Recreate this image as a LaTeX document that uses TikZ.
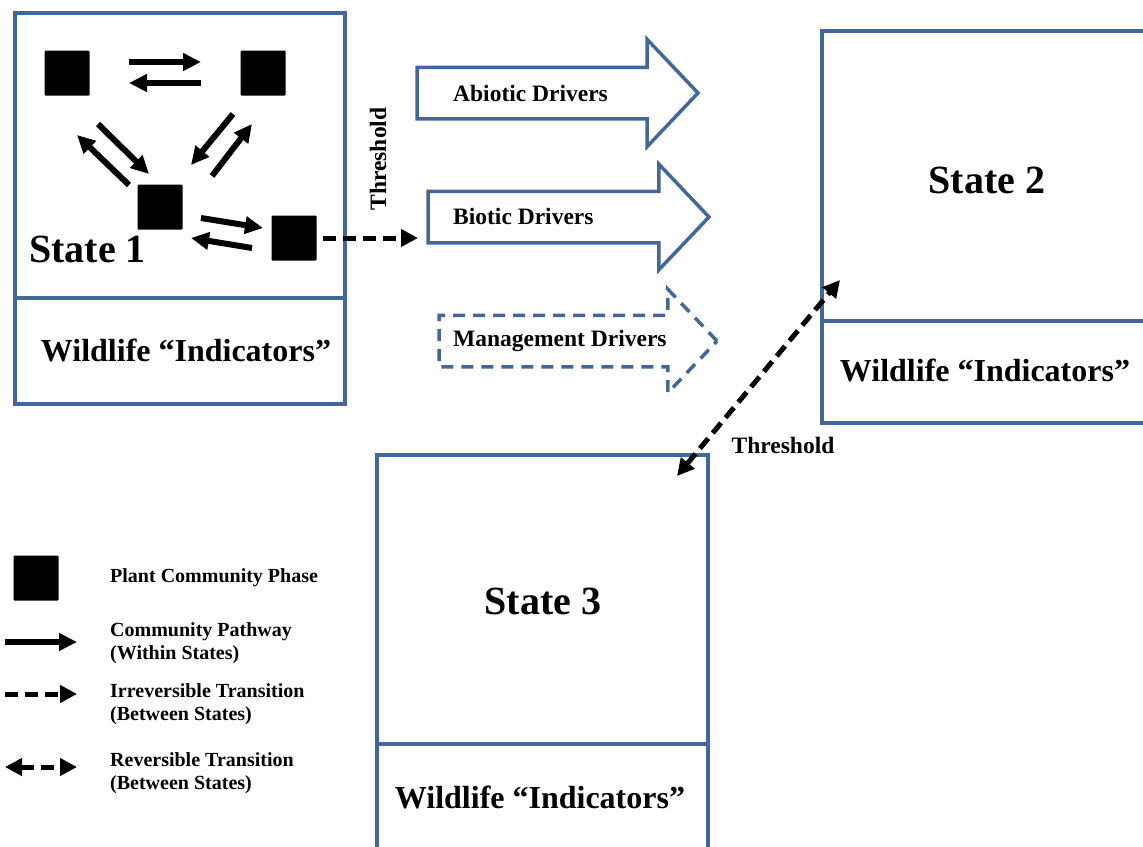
\documentclass[tikz,border=0pt]{standalone}
\usepackage{fontspec}
\setmainfont{Liberation Serif}
\usetikzlibrary{arrows.meta,shapes.arrows,calc}
\definecolor{boxblue}{RGB}{68,103,154}

\begin{document}
\begin{tikzpicture}[x=1pt,y=-1pt,
  box/.style={draw=boxblue,line width=4pt},
  phase/.style={fill=black,minimum size=45pt,inner sep=0pt,rounded corners=1pt},
  pathway/.style={line width=6pt,-{Triangle[length=18pt,width=17pt]}},
  trans/.style={line width=5pt,dash pattern=on 13pt off 7pt,-{Triangle[length=17pt,width=17pt]}},
  revtrans/.style={line width=5pt,dash pattern=on 13pt off 7pt,{Triangle[length=17pt,width=17pt]}-{Triangle[length=17pt,width=17pt]}},
  driver/.style={single arrow,draw=boxblue,line width=3.5pt,inner xsep=0pt,inner ysep=24pt,
    outer sep=0pt,minimum width=0pt,single arrow tip angle=93,anchor=tail},
  drvlabel/.style={font=\fontsize{23.5}{28}\selectfont\bfseries,anchor=west,inner sep=0pt},
  statelabel/.style={font=\fontsize{40}{48}\selectfont\bfseries,inner sep=0pt},
  wildlabel/.style={font=\fontsize{32}{38}\selectfont\bfseries,inner sep=0pt},
  legtext/.style={font=\fontsize{20}{23}\selectfont\bfseries,anchor=west,align=left,inner sep=0pt}]
\clip (0,0) rectangle (1143,846);

\draw[box] (15,13) rectangle (345,404);
\draw[box] (15,298) -- (345,298);
\draw[box] (822,31) rectangle (1160,423);
\draw[box] (822,321) -- (1160,321);
\draw[box] (377,455) rectangle (708,870);
\draw[box] (377,744) -- (708,744);

\node[phase] (pa) at (67,73) {};
\node[phase] (pb) at (263,73) {};
\node[phase] (pc) at (160,207) {};
\node[phase] (pd) at (294,238) {};
\draw[pathway] ($(pa)+(62,-11)$) -- ($(pb)+(-62,-11)$);
\draw[pathway] ($(pb)+(-62,10)$) -- ($(pa)+(62,10)$);
\draw[pathway] ($(pc)+(-31,-22)$) -- ($(pa)+(10,62)$);
\draw[pathway] ($(pa)+(31,51)$) -- ($(pc)+(-11,-33)$);
\draw[pathway] ($(pb)+(-30,41)$) -- ($(pc)+(31,-42)$);
\draw[pathway] ($(pc)+(52,-31)$) -- ($(pb)+(-11,51)$);
\draw[pathway] ($(pc)+(41,11)$) -- ($(pd)+(-31,-10)$);
\draw[pathway] ($(pd)+(-42,10)$) -- ($(pc)+(31,31)$);

\node[statelabel,anchor=base west] (state1) at (29,262) {State 1};
\node[statelabel] (state2) at (987,180) {State 2};
\node[statelabel] (state3) at (543,601) {State 3};
\node[wildlabel] (wild1) at (186,350) {Wildlife “Indicators”};
\node[wildlabel] (wild2) at (985,370) {Wildlife “Indicators”};
\node[wildlabel] (wild3) at (540,797) {Wildlife “Indicators”};

\node[driver,minimum height=281pt,single arrow head extend=28pt] (abiotic) at (417,93) {};
\node[driver,minimum height=281pt,single arrow head extend=27pt] (biotic) at (428,217) {};
\node[driver,minimum height=278pt,single arrow head extend=26pt,dash pattern=on 12pt off 8pt] (mgmt) at (439,341) {};
\node[drvlabel] (abioticlbl) at (453,93) {Abiotic Drivers};
\node[drvlabel] (bioticlbl) at (453,216) {Biotic Drivers};
\node[drvlabel] (mgmtlbl) at (453,341) {Management Drivers};

\node[drvlabel,anchor=center,rotate=90] (thr1) at (378,159) {Threshold};
\coordinate (thrend) at (418,238);
\draw[trans] ($(pd.east)+(6,0)$) -- (thrend);

\coordinate (s3in) at (677,476);
\coordinate (s2in) at (840,280);
\draw[revtrans] (s3in) -- (s2in);
\node[drvlabel,anchor=center] (thr2) at (783,445) {Threshold};

\node[phase] (legphase) at (36,578) {};
\node[legtext] (legphaselbl) at (110,578) {Plant Community Phase};
\coordinate (lega) at (5,642);
\coordinate (legb) at (77,642);
\draw[pathway] (lega) -- (legb);
\node[legtext] (legpathlbl) at (110,643) {Community Pathway\\(Within States)};
\coordinate (legc) at (5,694);
\coordinate (legd) at (77,694);
\draw[trans] (legc) -- (legd);
\node[legtext] (legirrlbl) at (110,704) {Irreversible Transition\\(Between States)};
\coordinate (lege) at (5,767);
\coordinate (legf) at (77,767);
\draw[revtrans] (lege) -- (legf);
\node[legtext] (legrevlbl) at (110,773) {Reversible Transition\\(Between States)};
\end{tikzpicture}
\end{document}
